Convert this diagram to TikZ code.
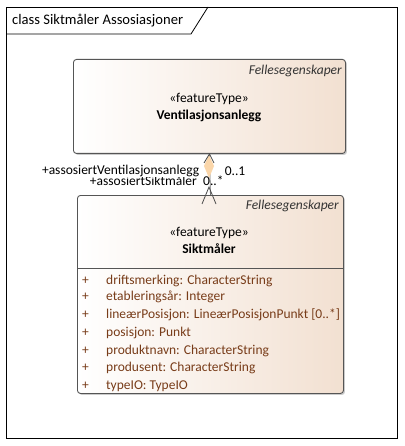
\documentclass[tikz,border=0pt]{standalone}
\usepackage{fontspec}
\setmainfont{Carlito}
\usetikzlibrary{shadows}
\definecolor{peach}{RGB}{242,224,209}
\definecolor{attr}{RGB}{120,60,25}
\definecolor{boxline}{RGB}{85,85,85}
\definecolor{dmd}{RGB}{250,214,170}
\newcommand{\dfont}{\fontsize{13.5}{16}\selectfont}
\begin{document}
\begin{tikzpicture}[x=1pt,y=-1pt,
  every node/.style={font=\dfont},
  classbox/.style={draw=boxline, line width=0.9pt, rounded corners=3pt,
    left color=white, right color=peach, anchor=north west,
    drop shadow={shadow xshift=1.5pt, shadow yshift=-1.5pt, fill=black!40, opacity=0.5}},
  txt/.style={inner sep=0pt},
  attrtxt/.style={inner sep=0pt, text=attr, anchor=west},
  tag/.style={inner sep=0pt, anchor=east, font=\dfont\itshape, text=black!80},
  arr/.style={draw=black!70, line width=0.8pt}]
\useasboundingbox (0,0) rectangle (404,446);
% frame
\draw[line width=0.8pt, fill=white] (6,7) rectangle (397,438);
\draw[line width=0.8pt] (6,34) -- (191,34) -- (208,7);
\node[txt, anchor=west, font=\fontsize{14.6}{17}\selectfont] (title) at (12,20.5) {class Siktmåler Assosiasjoner};
% box 1
\node[classbox, minimum width=272, minimum height=94, inner sep=0pt] (vent) at (73,59) {};
\node[tag] (vtag) at (342,71) {Fellesegenskaper};
\node[txt] (vst) at (209,99) {«featureType»};
\node[txt, font=\dfont\bfseries] (vname) at (209,116) {Ventilasjonsanlegg};
% box 2
\node[classbox, minimum width=266, minimum height=198, inner sep=0pt] (sikt) at (77,195) {};
\node[tag] (stag) at (339,206) {Fellesegenskaper};
\node[txt] (sst) at (209,233) {«featureType»};
\node[txt, font=\dfont\bfseries] (sname) at (209,249) {Siktmåler};
\coordinate (dl) at (77,268);
\coordinate (dr) at (343,268);
\draw[draw=boxline, line width=0.9pt] (dl) -- (dr);
% attributes
\foreach \y/\t [count=\i] in {281/{driftsmerking: CharacterString},
  297/{etableringsår: Integer},
  315/{lineærPosisjon: LineærPosisjonPunkt [0..*]},
  333/{posisjon: Punkt},
  351/{produktnavn: CharacterString},
  368/{produsent: CharacterString},
  386/{typeIO: TypeIO}}{
  \node[attrtxt] (p\i) at (82,\y) {+};
  \node[attrtxt] (a\i) at (106,\y) {\t};
}
% connector
\draw[draw=black!55, line width=0.8pt] (sikt.north) -- (vent.south);
\coordinate (dt) at (209,155);
\coordinate (dr2) at (214,166);
\coordinate (db) at (209,178);
\coordinate (dl2) at (204,166);
\fill[dmd] (dt) -- (dr2) -- (db) -- (dl2) -- cycle;
\coordinate (ta) at (204,163);
\coordinate (tb) at (214,163);
\draw[arr] (ta) -- (vent.south) -- (tb);
\coordinate (ba) at (202,204);
\coordinate (bt) at (209,187);
\coordinate (bb) at (216,204);
\draw[arr] (ba) -- (bt) -- (bb);
% labels
\node[txt, anchor=east] (l2) at (197,181) {+assosiertSiktmåler};
\node[txt, anchor=west] (m2) at (203,181) {0..*};
\node[anchor=east, fill=white, inner sep=0.6pt] (l1) at (200,171) {+assosiertVentilasjonsanlegg};
\node[anchor=west, fill=white, inner sep=0.6pt] (m1) at (224,171) {0..1};
\end{tikzpicture}
\end{document}
